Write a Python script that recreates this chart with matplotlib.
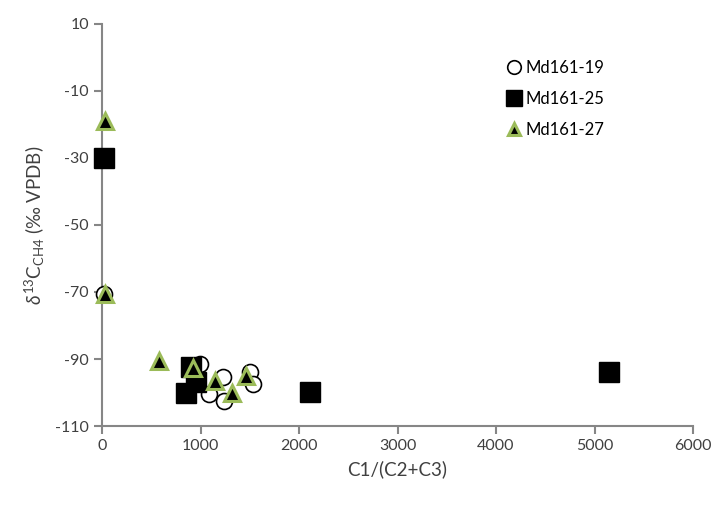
import matplotlib.pyplot as plt

plt.rcParams['font.family'] = ['Lato', 'DejaVu Sans']
plt.rcParams['mathtext.fontset'] = 'custom'
plt.rcParams['mathtext.rm'] = 'Lato'
plt.rcParams['mathtext.it'] = 'Lato:italic'
plt.rcParams['axes.unicode_minus'] = False

# C1/(C2+C3) vs delta13C of methane for three samples
md19_x = [20, 995, 1090, 1230, 1240, 1500, 1530]
md19_y = [-70.5, -91.5, -100.5, -95.5, -102.5, -93.8, -97.5]

md25_x = [25, 900, 950, 850, 2110, 5150]
md25_y = [-30, -92.5, -97, -100, -99.8, -94]

md27_x = [30, 30, 575, 925, 1150, 1320, 1462]
md27_y = [-19, -70.5, -90.5, -92.8, -96.5, -100.2, -95]

grey = '#868686'
green = '#9bbb59'
txt = '#404040'

fig = plt.figure(figsize=(7.2, 5.08), dpi=100)
ax = fig.add_axes([0.1417, 0.1614, 0.8208, 0.7914])

ax.plot(md19_x, md19_y, 'o', ms=11.5, mfc='white', mec='black', mew=1.2,
        label='Md161-19', zorder=3, clip_on=False)
ax.plot(md25_x, md25_y, 's', ms=14, mfc='black', mec='black',
        label='Md161-25', zorder=4, clip_on=False)
ax.plot(md27_x, md27_y, '^', ms=11, mfc='black', mec=green, mew=2.2,
        label='Md161-27', zorder=5, clip_on=False)

ax.set_xlim(0, 6000)
ax.set_ylim(-110, 10)
ax.set_xticks(range(0, 6001, 1000))
ax.set_yticks(range(-110, 11, 20))

for side in ['top', 'right']:
    ax.spines[side].set_visible(False)
for side in ['left', 'bottom']:
    ax.spines[side].set_color(grey)
    ax.spines[side].set_linewidth(1.5)
ax.tick_params(colors=grey, labelcolor=txt, labelsize=11.5,
               length=6, width=1.5, direction='out')

ax.set_xlabel('C1/(C2+C3)', fontsize=13.5, color=txt, labelpad=5)
ax.set_ylabel(r'$\delta^{13}$C$_{\mathrm{CH4}}$ (‰ VPDB)', fontsize=13.5,
              color=txt, labelpad=6)

ax.legend(loc='upper right', bbox_to_anchor=(0.875, 0.947), frameon=False,
          fontsize=12, labelspacing=0.88, handletextpad=0.2, markerscale=0.85,
          handlelength=1.0)

fig.savefig('out.png', dpi=100)
